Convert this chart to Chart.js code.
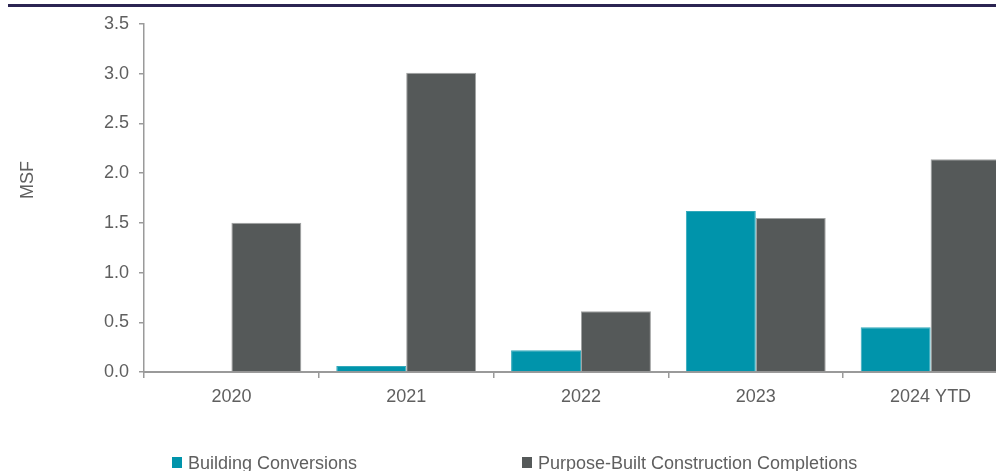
<!DOCTYPE html>
<html>
<head>
<meta charset="utf-8">
<script src="https://cdn.jsdelivr.net/npm/chart.js@4/dist/chart.umd.min.js"></script>
<style>
  html, body { margin: 0; padding: 0; background: #fff; overflow: hidden; }
  #wrap { position: relative; width: 996px; height: 471px; overflow: hidden; }
  #topline { position: absolute; left: 8px; right: 0; top: 4px; height: 3px; background: #2b2452; }
  #box { position: absolute; left: 0; top: 0; width: 1030px; height: 471px; }
</style>
</head>
<body>
<div id="wrap">
  <div id="topline"></div>
  <div id="box"><canvas id="chart"></canvas></div>
</div>
<script>
// data
const years = ['2020', '2021', '2022', '2023', '2024 YTD'];
const conversions = [0, 0.06, 0.22, 1.62, 0.45];
const purposeBuilt = [1.5, 3.01, 0.61, 1.55, 2.14];
const seriesNames = ['Building Conversions', 'Purpose-Built Construction Completions'];
const yTicks = [0, 0.5, 1.0, 1.5, 2.0, 2.5, 3.0, 3.5];
const yTitle = 'MSF';

const TEAL = '#0094ab';
const GRAY = '#555959';
const TXT = '#5f5f5f';
const AXIS = '#9a9a9a';
const FONT = '"Liberation Sans", Arial, sans-serif';

// y title + legend drawn at fixed spots like the original
const extras = {
  id: 'extras',
  afterDraw(chart) {
    const c = chart.ctx;
    c.save();
    c.fillStyle = TXT;
    c.font = '18px ' + FONT;
    c.textAlign = 'center';
    c.textBaseline = 'middle';
    c.translate(28, 180);
    c.rotate(-Math.PI / 2);
    c.fillText(yTitle, 0, 0);
    c.restore();

    const spots = [172, 522];
    chart.data.datasets.forEach((ds, i) => {
      c.save();
      c.fillStyle = ds.backgroundColor;
      c.fillRect(spots[i], 457, 10, 11);
      c.fillStyle = TXT;
      c.font = '18px ' + FONT;
      c.textAlign = 'left';
      c.textBaseline = 'alphabetic';
      c.fillText(ds.label, spots[i] + 16, 469);
      c.restore();
    });
  }
};

new Chart(document.getElementById('chart'), {
  type: 'bar',
  data: {
    labels: years,
    datasets: [
      { label: seriesNames[0], data: conversions, backgroundColor: TEAL, borderColor: '#33a9bb', borderWidth: 1 },
      { label: seriesNames[1], data: purposeBuilt, backgroundColor: GRAY, borderColor: '#a0a2a2', borderWidth: 1 }
    ]
  },
  options: {
    responsive: true,
    maintainAspectRatio: false,
    animation: false,
    layout: { padding: { left: 0, top: 24, right: 12, bottom: 0 } },
    datasets: { bar: { categoryPercentage: 0.8, barPercentage: 1.0 } },
    plugins: { legend: { display: false }, tooltip: { enabled: false } },
    scales: {
      x: {
        grid: { display: true, offset: true, drawOnChartArea: false, drawTicks: true, tickLength: 6, color: AXIS, lineWidth: 1.5 },
        border: { display: true, color: AXIS, width: 2 },
        ticks: { color: TXT, font: { family: FONT, size: 18 }, padding: 8, maxRotation: 0 },
        afterFit(scale) { scale.height = 99; }
      },
      y: {
        min: 0,
        max: 3.5,
        afterBuildTicks(scale) { scale.ticks = yTicks.map(v => ({ value: v })); },
        grid: { display: true, drawOnChartArea: false, drawTicks: true, tickLength: 5, color: AXIS, lineWidth: 1.5 },
        border: { display: true, color: AXIS, width: 1.5 },
        ticks: { color: TXT, font: { family: FONT, size: 18 }, padding: 10, callback: v => Number(v).toFixed(1) },
        afterFit(scale) { scale.width = 144; }
      }
    }
  },
  plugins: [extras]
});
</script>
</body>
</html>
